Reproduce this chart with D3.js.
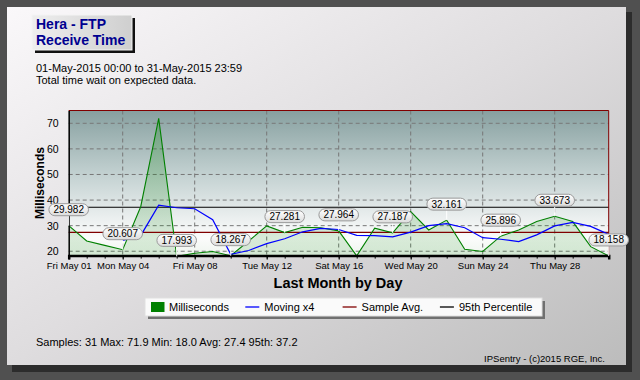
<!DOCTYPE html>
<html>
<head>
<meta charset="utf-8">
<script src="https://cdn.jsdelivr.net/npm/d3@7"></script>
<style>
body { margin: 0; background: #505050; }
svg { display: block; font-family: Arial, "Liberation Sans", sans-serif; }
</style>
</head>
<body>
<div id="vis"></div>
<script>
// set width and height for svg
var width = 640;
var height = 380;

// daily samples (May 2015)
var days = [1, 2, 3, 4, 5, 6, 7, 8, 9, 10, 11, 12, 13, 14, 15, 16,
            17, 18, 19, 20, 21, 22, 23, 24, 25, 26, 27, 28, 29, 30, 31];
var msValues = [29.982, 24.0, 22.3, 20.607, 37.4, 71.9, 17.993, 19.2, 19.9, 18.267,
                24.0, 29.9, 27.281, 29.4, 29.2, 27.964, 18.2, 29.0, 27.187, 35.5,
                28.3, 32.161, 20.8, 19.9, 25.896, 28.3, 31.6, 33.673, 31.6, 21.8, 18.158];

// moving x4 series, starts on day 4
var movingDays = [4, 5, 6, 7, 8, 9, 10, 11, 12, 13, 14, 15, 16, 17, 18, 19,
                  20, 21, 22, 23, 24, 25, 26, 27, 28, 29, 30, 31];
var movingValues = [24.2, 26.1, 38.0, 37.0, 36.6, 32.3, 18.8, 20.3, 23.0, 24.9,
                    27.6, 28.9, 28.5, 26.2, 26.1, 25.6, 27.5, 30.0, 30.8, 29.2,
                    25.3, 24.7, 23.8, 26.4, 29.9, 31.3, 29.7, 26.6];

// days with value callouts
var labelDays = [1, 4, 7, 10, 13, 16, 19, 22, 25, 28, 31];

// axis ticks
var tickDays = [1, 4, 8, 12, 16, 20, 24, 28];
var tickLabels = ["Fri May 01", "Mon May 04", "Fri May 08", "Tue May 12",
                  "Sat May 16", "Wed May 20", "Sun May 24", "Thu May 28"];
var yTicks = [20, 30, 40, 50, 60, 70];

var sampleAvg = 27.4;
var pct95 = 37.2;

var legendNames = ["Milliseconds", "Moving x4", "Sample Avg.", "95th Percentile"];
var legendColors = ["#008000", "#0000ff", "#800000", "#000000"];

var svg = d3.select("#vis").append("svg")
    .attr("width", width)
    .attr("height", height);

var defs = svg.append("defs");

function linGrad(id, x1, y1, x2, y2, stops) {
    var g = defs.append("linearGradient").attr("id", id)
        .attr("x1", x1).attr("y1", y1).attr("x2", x2).attr("y2", y2);
    stops.forEach(function(s) {
        g.append("stop").attr("offset", s[0]).attr("stop-color", s[1])
            .attr("stop-opacity", s[2] == null ? 1 : s[2]);
    });
}

linGrad("panelGrad", "0", "0", "1", "1", [["0", "#faf8fa"], ["0.5", "#dedcde"], ["1", "#bcbcbc"]]);
linGrad("plotGrad", "0", "0", "0", "1", [["0", "#87a0a0"], ["0.45", "#c4d2d2"], ["0.75", "#ecf0f0"], ["0.88", "#fbfcfb"], ["1", "#eef4ee"]]);
linGrad("areaGrad", "0", "0", "0", "1", [["0", "#008000", 0.25], ["1", "#008000", 0.12]]);
linGrad("titleGrad", "0", "0", "1", "0", [["0", "#eeeeee"], ["1", "#cfcfcf"]]);
linGrad("pillGrad", "0", "0", "0", "1", [["0", "#ffffff"], ["1", "#dcdcdc"]]);

// frame, shadow and panel
svg.append("rect").attr("x", 12).attr("y", 12).attr("width", 620).attr("height", 360).attr("fill", "#2c2c2c");
svg.append("rect").attr("x", 7).attr("y", 7).attr("width", 619).attr("height", 358).attr("fill", "url(#panelGrad)");

// title box
svg.append("rect").attr("x", 35).attr("y", 18).attr("width", 100).attr("height", 35).attr("fill", "#111");
svg.append("rect").attr("x", 32).attr("y", 15).attr("width", 100).attr("height", 35)
    .attr("fill", "url(#titleGrad)").attr("stroke", "#f4f4f4").attr("stroke-width", 1);
svg.append("text").attr("x", 36).attr("y", 28.5).text("Hera - FTP")
    .attr("fill", "#000090").style("font-weight", "bold").style("font-size", "14px");
svg.append("text").attr("x", 36).attr("y", 44.5).text("Receive Time")
    .attr("fill", "#000090").style("font-weight", "bold").style("font-size", "14px");

svg.append("text").attr("x", 36).attr("y", 72).style("font-size", "11px")
    .text("01-May-2015 00:00 to 31-May-2015 23:59");
svg.append("text").attr("x", 36).attr("y", 84).style("font-size", "11px")
    .text("Total time wait on expected data.");

// scales
var x = d3.scaleLinear().domain([1, 31]).range([68.7, 608.7]);
var y = d3.scaleLinear().domain([18.3, 75]).range([255.6, 110.5]);

var plotL = x.range()[0], plotR = x.range()[1];
var plotT = y.range()[1], plotB = y.range()[0];

svg.append("rect").attr("x", plotL).attr("y", plotT)
    .attr("width", plotR - plotL).attr("height", plotB - plotT)
    .attr("fill", "url(#plotGrad)");

// grid
svg.append("g").selectAll("line").data(yTicks).enter().append("line")
    .attr("x1", plotL).attr("x2", plotR)
    .attr("y1", d => y(d)).attr("y2", d => y(d))
    .attr("stroke", "#777").attr("stroke-dasharray", "4,3");
svg.append("g").selectAll("line").data(tickDays.slice(1)).enter().append("line")
    .attr("x1", d => x(d)).attr("x2", d => x(d))
    .attr("y1", plotT).attr("y2", plotB)
    .attr("stroke", "#777").attr("stroke-dasharray", "4,3");

// green area + line
var pts = days.map(function(d, i) { return { day: d, value: msValues[i] }; });

svg.append("path").datum(pts)
    .attr("d", d3.area().x(d => x(d.day)).y0(plotB).y1(d => y(d.value)))
    .attr("fill", "url(#areaGrad)");

// reference lines
svg.append("line").attr("x1", plotL).attr("x2", plotR)
    .attr("y1", y(sampleAvg)).attr("y2", y(sampleAvg))
    .attr("stroke", "#800000").attr("stroke-width", 1.2);
svg.append("line").attr("x1", plotL).attr("x2", plotR)
    .attr("y1", y(pct95)).attr("y2", y(pct95))
    .attr("stroke", "#000").attr("stroke-width", 1.2);

svg.append("path").datum(pts)
    .attr("d", d3.line().x(d => x(d.day)).y(d => y(d.value)))
    .attr("fill", "none").attr("stroke", "#008000").attr("stroke-width", 1.1);

var mov = movingDays.map(function(d, i) { return { day: d, value: movingValues[i] }; });
svg.append("path").datum(mov)
    .attr("d", d3.line().x(d => x(d.day)).y(d => y(d.value)))
    .attr("fill", "none").attr("stroke", "#0000ff").attr("stroke-width", 1.2);

// plot border
svg.append("path")
    .attr("d", "M" + plotL + "," + plotT + "H" + plotR + "V" + plotB)
    .attr("fill", "none").attr("stroke", "#800000").attr("stroke-width", 1);

// axes
var xAxis = svg.append("g").attr("transform", "translate(0," + plotB + ")")
    .call(d3.axisBottom(x).tickValues(tickDays)
        .tickFormat(function(d, i) { return tickLabels[i]; })
        .tickSize(4).tickPadding(3));
xAxis.selectAll("text").style("font-size", "9.5px").attr("fill", "#000");
xAxis.select(".domain").attr("stroke-width", 2.5).attr("stroke", "#000");

svg.append("g").attr("transform", "translate(0," + plotB + ")")
    .call(d3.axisBottom(x).tickValues(days).tickFormat("").tickSize(3))
    .select(".domain").remove();

var yAxis = svg.append("g").attr("transform", "translate(" + plotL + ",0)")
    .call(d3.axisLeft(y).tickValues(yTicks).tickSize(0).tickPadding(10));
yAxis.selectAll("text").style("font-size", "10.5px").attr("fill", "#000");
yAxis.select(".domain").attr("stroke-width", 1.5).attr("stroke", "#000");

svg.append("text")
    .attr("transform", "translate(44," + ((plotT + plotB) / 2) + ") rotate(-90)")
    .style("text-anchor", "middle").style("font-weight", "bold").style("font-size", "12px")
    .text("Milliseconds");

svg.append("text").attr("x", 338).attr("y", 288)
    .style("text-anchor", "middle").style("font-weight", "bold").style("font-size", "14.5px")
    .text("Last Month by Day");

// value callouts
var callouts = svg.append("g").selectAll("g")
    .data(labelDays.map(function(d) { return { day: d, value: msValues[d - 1] }; }))
    .enter().append("g");

callouts.append("line")
    .attr("x1", d => x(d.day)).attr("x2", d => x(d.day))
    .attr("y1", d => y(d.value) - 10).attr("y2", d => y(d.value))
    .attr("stroke", "#fff").attr("stroke-width", 1);

var pillRects = callouts.append("rect")
    .attr("fill", "url(#pillGrad)").attr("stroke", "#9a9a9a").attr("stroke-width", 1);

var pillTexts = callouts.append("text")
    .attr("x", d => x(d.day)).attr("y", d => y(d.value) - 12.5)
    .style("text-anchor", "middle").style("font-size", "10px")
    .text(d => d3.format(".3f")(d.value));

pillTexts.each(function(d) {
    var w = this.getComputedTextLength() + 9;
    d3.select(this.parentNode).select("rect")
        .attr("x", x(d.day) - w / 2).attr("y", y(d.value) - 22)
        .attr("width", w).attr("height", 12)
        .attr("rx", 6).attr("ry", 6);
});

// legend
var legend = svg.append("g");
legend.append("rect").attr("x", 148).attr("y", 301).attr("width", 397).attr("height", 18).attr("fill", "#707070");
legend.append("rect").attr("x", 145).attr("y", 298).attr("width", 397).attr("height", 18)
    .attr("fill", "#fafafa").attr("stroke", "#e0e0e0");

var items = legend.selectAll(".item").data(legendNames).enter().append("g")
    .attr("transform", function(d, i) { return "translate(" + (151 + i * 97.3) + ",307)"; });

items.each(function(d, i) {
    var g = d3.select(this);
    if (i == 0) {
        g.append("rect").attr("x", 0).attr("y", -5).attr("width", 13.5).attr("height", 10).attr("fill", legendColors[i]);
    } else {
        g.append("line").attr("x1", -3).attr("x2", 11).attr("y1", 0).attr("y2", 0)
            .attr("stroke", legendColors[i]).attr("stroke-width", 1.3);
    }
    g.append("text").attr("x", i == 0 ? 18 : 16).attr("y", 4)
        .style("font-size", "11px").text(d);
});

svg.append("text").attr("x", 36).attr("y", 346).style("font-size", "11px")
    .text("Samples: 31 Max: 71.9 Min: 18.0 Avg: 27.4 95th: 37.2");

svg.append("text").attr("x", 605).attr("y", 362)
    .style("text-anchor", "end").style("font-size", "9.5px")
    .text("IPSentry - (c)2015 RGE, Inc.");
</script>
</body>
</html>
